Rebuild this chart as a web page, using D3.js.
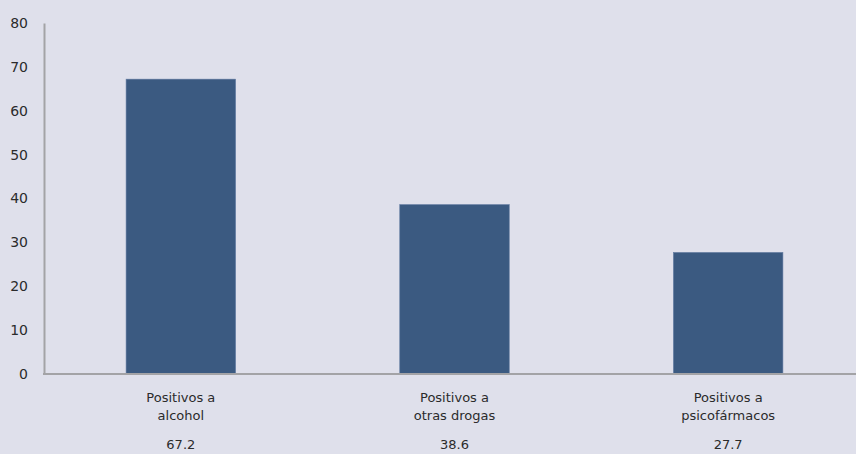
<!DOCTYPE html>
<html>
<head>
<meta charset="utf-8">
<script src="https://cdn.jsdelivr.net/npm/d3@7"></script>
<style>
  html, body { margin: 0; padding: 0; background: #dfe0eb; }
  svg { display: block; }
  text { font-family: "DejaVu Sans", "Lato", sans-serif; fill: #2b2b2b; }
</style>
</head>
<body>
<svg id="chart" width="856" height="454"></svg>
<script>
// Categories (two-line labels), values and axis ticks
const categories = [
  ["Positivos a", "alcohol"],
  ["Positivos a", "otras drogas"],
  ["Positivos a", "psicofármacos"]
];
const values = [67.2, 38.6, 27.7];
const yTicks = [0, 10, 20, 30, 40, 50, 60, 70, 80];

const width = 856, height = 454;
const margin = { left: 44, top: 23 };
const plotBottom = 374;

const svg = d3.select("#chart");
svg.append("rect").attr("width", width).attr("height", height).attr("fill", "#dfe0eb");

const keys = categories.map((c, i) => i);
const x = d3.scaleBand().domain(keys).range([margin.left, 865]).paddingInner(0.6).paddingOuter(0.3);
const y = d3.scaleLinear().domain([0, 80]).range([plotBottom, margin.top]);

// Bars
svg.append("g").selectAll("rect").data(values).join("rect")
  .attr("x", (d, i) => x(i))
  .attr("y", d => y(d))
  .attr("width", x.bandwidth())
  .attr("height", d => y(0) - y(d))
  .attr("fill", "#3b5a81")
  .attr("stroke", "#6079a0")
  .attr("stroke-width", 0.6);

// Y axis
const yAxis = svg.append("g")
  .attr("transform", `translate(${margin.left},0)`)
  .call(d3.axisLeft(y).tickValues(yTicks).tickSize(0).tickPadding(16).tickFormat(d3.format("d")));
yAxis.select(".domain").attr("stroke", "#a3a3a6").attr("stroke-width", 2);
yAxis.selectAll("text").attr("font-size", 14).attr("fill", "#2b2b2b");

// X axis baseline
svg.append("line")
  .attr("x1", margin.left - 1).attr("x2", width)
  .attr("y1", y(0)).attr("y2", y(0))
  .attr("stroke", "#a3a3a6").attr("stroke-width", 2);

// Category labels
const labels = svg.append("g").selectAll("text").data(categories).join("text")
  .attr("text-anchor", "middle")
  .attr("font-size", 13)
  .attr("x", (d, i) => x(i) + x.bandwidth() / 2)
  .attr("y", 402);
labels.selectAll("tspan").data(d => d).join("tspan")
  .attr("x", function () { return d3.select(this.parentNode).attr("x"); })
  .attr("dy", (d, j) => j === 0 ? 0 : 18)
  .text(d => d);

// Value labels below categories
svg.append("g").selectAll("text").data(values).join("text")
  .attr("text-anchor", "middle")
  .attr("font-size", 13)
  .attr("x", (d, i) => x(i) + x.bandwidth() / 2)
  .attr("y", 449)
  .text(d => d3.format(".1f")(d));
</script>
</body>
</html>
